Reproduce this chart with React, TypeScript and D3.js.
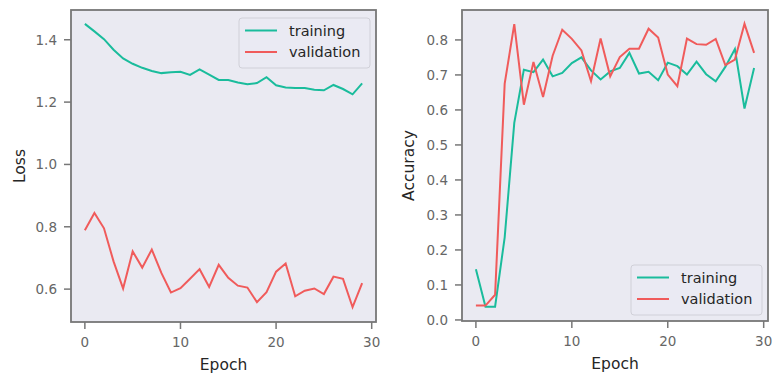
import React from 'react'
import * as d3 from 'd3'

const epochs = d3.range(30)

const trainLoss = [
  1.451, 1.427, 1.402, 1.368, 1.34, 1.323, 1.31, 1.3, 1.293, 1.296,
  1.297, 1.287, 1.305, 1.288, 1.271, 1.271, 1.263, 1.257, 1.261, 1.28,
  1.254, 1.247, 1.245, 1.245, 1.24, 1.238, 1.255, 1.242, 1.225, 1.26,
]
const valLoss = [
  0.789, 0.844, 0.795, 0.689, 0.602, 0.721, 0.669, 0.727, 0.652, 0.589,
  0.603, 0.633, 0.664, 0.607, 0.678, 0.636, 0.611, 0.605, 0.558, 0.59,
  0.656, 0.682, 0.577, 0.595, 0.602, 0.584, 0.64, 0.633, 0.542, 0.619,
]
const trainAcc = [
  0.145, 0.038, 0.038, 0.236, 0.563, 0.715, 0.708, 0.744, 0.696, 0.706,
  0.734, 0.75, 0.713, 0.687, 0.71, 0.72, 0.763, 0.704, 0.709, 0.685,
  0.735, 0.725, 0.701, 0.738, 0.702, 0.682, 0.723, 0.774, 0.604, 0.72,
]
const valAcc = [
  0.041, 0.041, 0.072, 0.675, 0.845, 0.615, 0.737, 0.637, 0.755, 0.829,
  0.803, 0.77, 0.682, 0.804, 0.696, 0.751, 0.775, 0.775, 0.832, 0.807,
  0.701, 0.668, 0.804, 0.788, 0.786, 0.803, 0.728, 0.744, 0.846, 0.763,
]

const xTicks = [0, 10, 20, 30]
const lossTicks = [0.6, 0.8, 1.0, 1.2, 1.4]
const accTicks = [0.0, 0.1, 0.2, 0.3, 0.4, 0.5, 0.6, 0.7, 0.8]
const seriesNames = ['training', 'validation']

const GREEN = '#1abc9c'
const RED = '#f05b5b'
const FRAME = '#777777'
const font = 'DejaVu Sans, sans-serif'

type PanelProps = {
  left: number
  right: number
  top: number
  bottom: number
  yDomain: [number, number]
  yTicks: number[]
  yLabel: string
  yLabelX: number
  train: number[]
  val: number[]
  legendPos: 'top' | 'bottom'
}

const fmt = d3.format('.1f')

const Panel = ({ left, right, top, bottom, yDomain, yTicks, yLabel, yLabelX, train, val, legendPos }: PanelProps) => {
  // matplotlib-style 5% margins on x
  const x = d3.scaleLinear().domain([-1.45, 30.45]).range([left, right])
  const y = d3.scaleLinear().domain(yDomain).range([bottom, top])

  const line = d3
    .line<number>()
    .x((d, i) => x(epochs[i]))
    .y((d) => y(d))

  const legW = 131
  const legH = 50
  const legX = right - 6 - legW
  const legY = legendPos === 'top' ? top + 8 : bottom - 6 - legH

  return (
    <g>
      <rect x={left} y={top} width={right - left} height={bottom - top} fill="#eaeaf2" />
      <path d={line(train) || ''} fill="none" stroke={GREEN} strokeWidth={2} />
      <path d={line(val) || ''} fill="none" stroke={RED} strokeWidth={2} />
      <rect x={left} y={top} width={right - left} height={bottom - top} fill="none" stroke={FRAME} strokeWidth={1.8} />

      {/* x axis */}
      {xTicks.map((t) => (
        <g key={t} transform={`translate(${x(t)},${bottom})`}>
          <line y1={0} y2={7} stroke={FRAME} strokeWidth={1.5} />
          <text y={25.3} textAnchor="middle" fill="#666" fontSize={13.5} fontFamily={font}>
            {t}
          </text>
        </g>
      ))}
      <text x={(left + right) / 2} y={bottom + 47.5} textAnchor="middle" fill="#262626" fontSize={15.5} fontFamily={font}>
        Epoch
      </text>

      {/* y axis */}
      {yTicks.map((t) => (
        <g key={t} transform={`translate(${left},${y(t)})`}>
          <line x1={0} x2={-7} stroke={FRAME} strokeWidth={1.5} />
          <text x={-14} dy="0.36em" textAnchor="end" fill="#666" fontSize={13.5} fontFamily={font}>
            {fmt(t)}
          </text>
        </g>
      ))}
      <text
        transform={`translate(${yLabelX},${(top + bottom) / 2}) rotate(-90)`}
        textAnchor="middle"
        fill="#262626"
        fontSize={15.5}
        fontFamily={font}
      >
        {yLabel}
      </text>

      {/* legend */}
      <rect x={legX} y={legY} width={legW} height={legH} rx={3} fill="#eaeaf2" fillOpacity={0.8} stroke="#d0d0d8" />
      {seriesNames.map((name, i) => (
        <g key={name} transform={`translate(${legX + 6},${legY + 12.5 + i * 21.5})`}>
          <line x1={0} x2={32} stroke={i === 0 ? GREEN : RED} strokeWidth={2} />
          <text x={44} dy="0.35em" fill="#262626" fontSize={14.5} fontFamily={font}>
            {name}
          </text>
        </g>
      ))}
    </g>
  )
}

const App = () => {
  return (
    <svg width={783} height={384} style={{ position: 'absolute', left: 0, top: 0 }}>
      <rect width={783} height={384} fill="#ffffff" />
      <Panel
        left={71}
        right={376}
        top={10}
        bottom={322}
        yDomain={[0.4945, 1.4955]}
        yTicks={lossTicks}
        yLabel="Loss"
        yLabelX={25}
        train={trainLoss}
        val={valLoss}
        legendPos="top"
      />
      <Panel
        left={462}
        right={768}
        top={10}
        bottom={321}
        yDomain={[-0.003, 0.8855]}
        yTicks={accTicks}
        yLabel="Accuracy"
        yLabelX={414}
        train={trainAcc}
        val={valAcc}
        legendPos="bottom"
      />
    </svg>
  )
}

export default App
